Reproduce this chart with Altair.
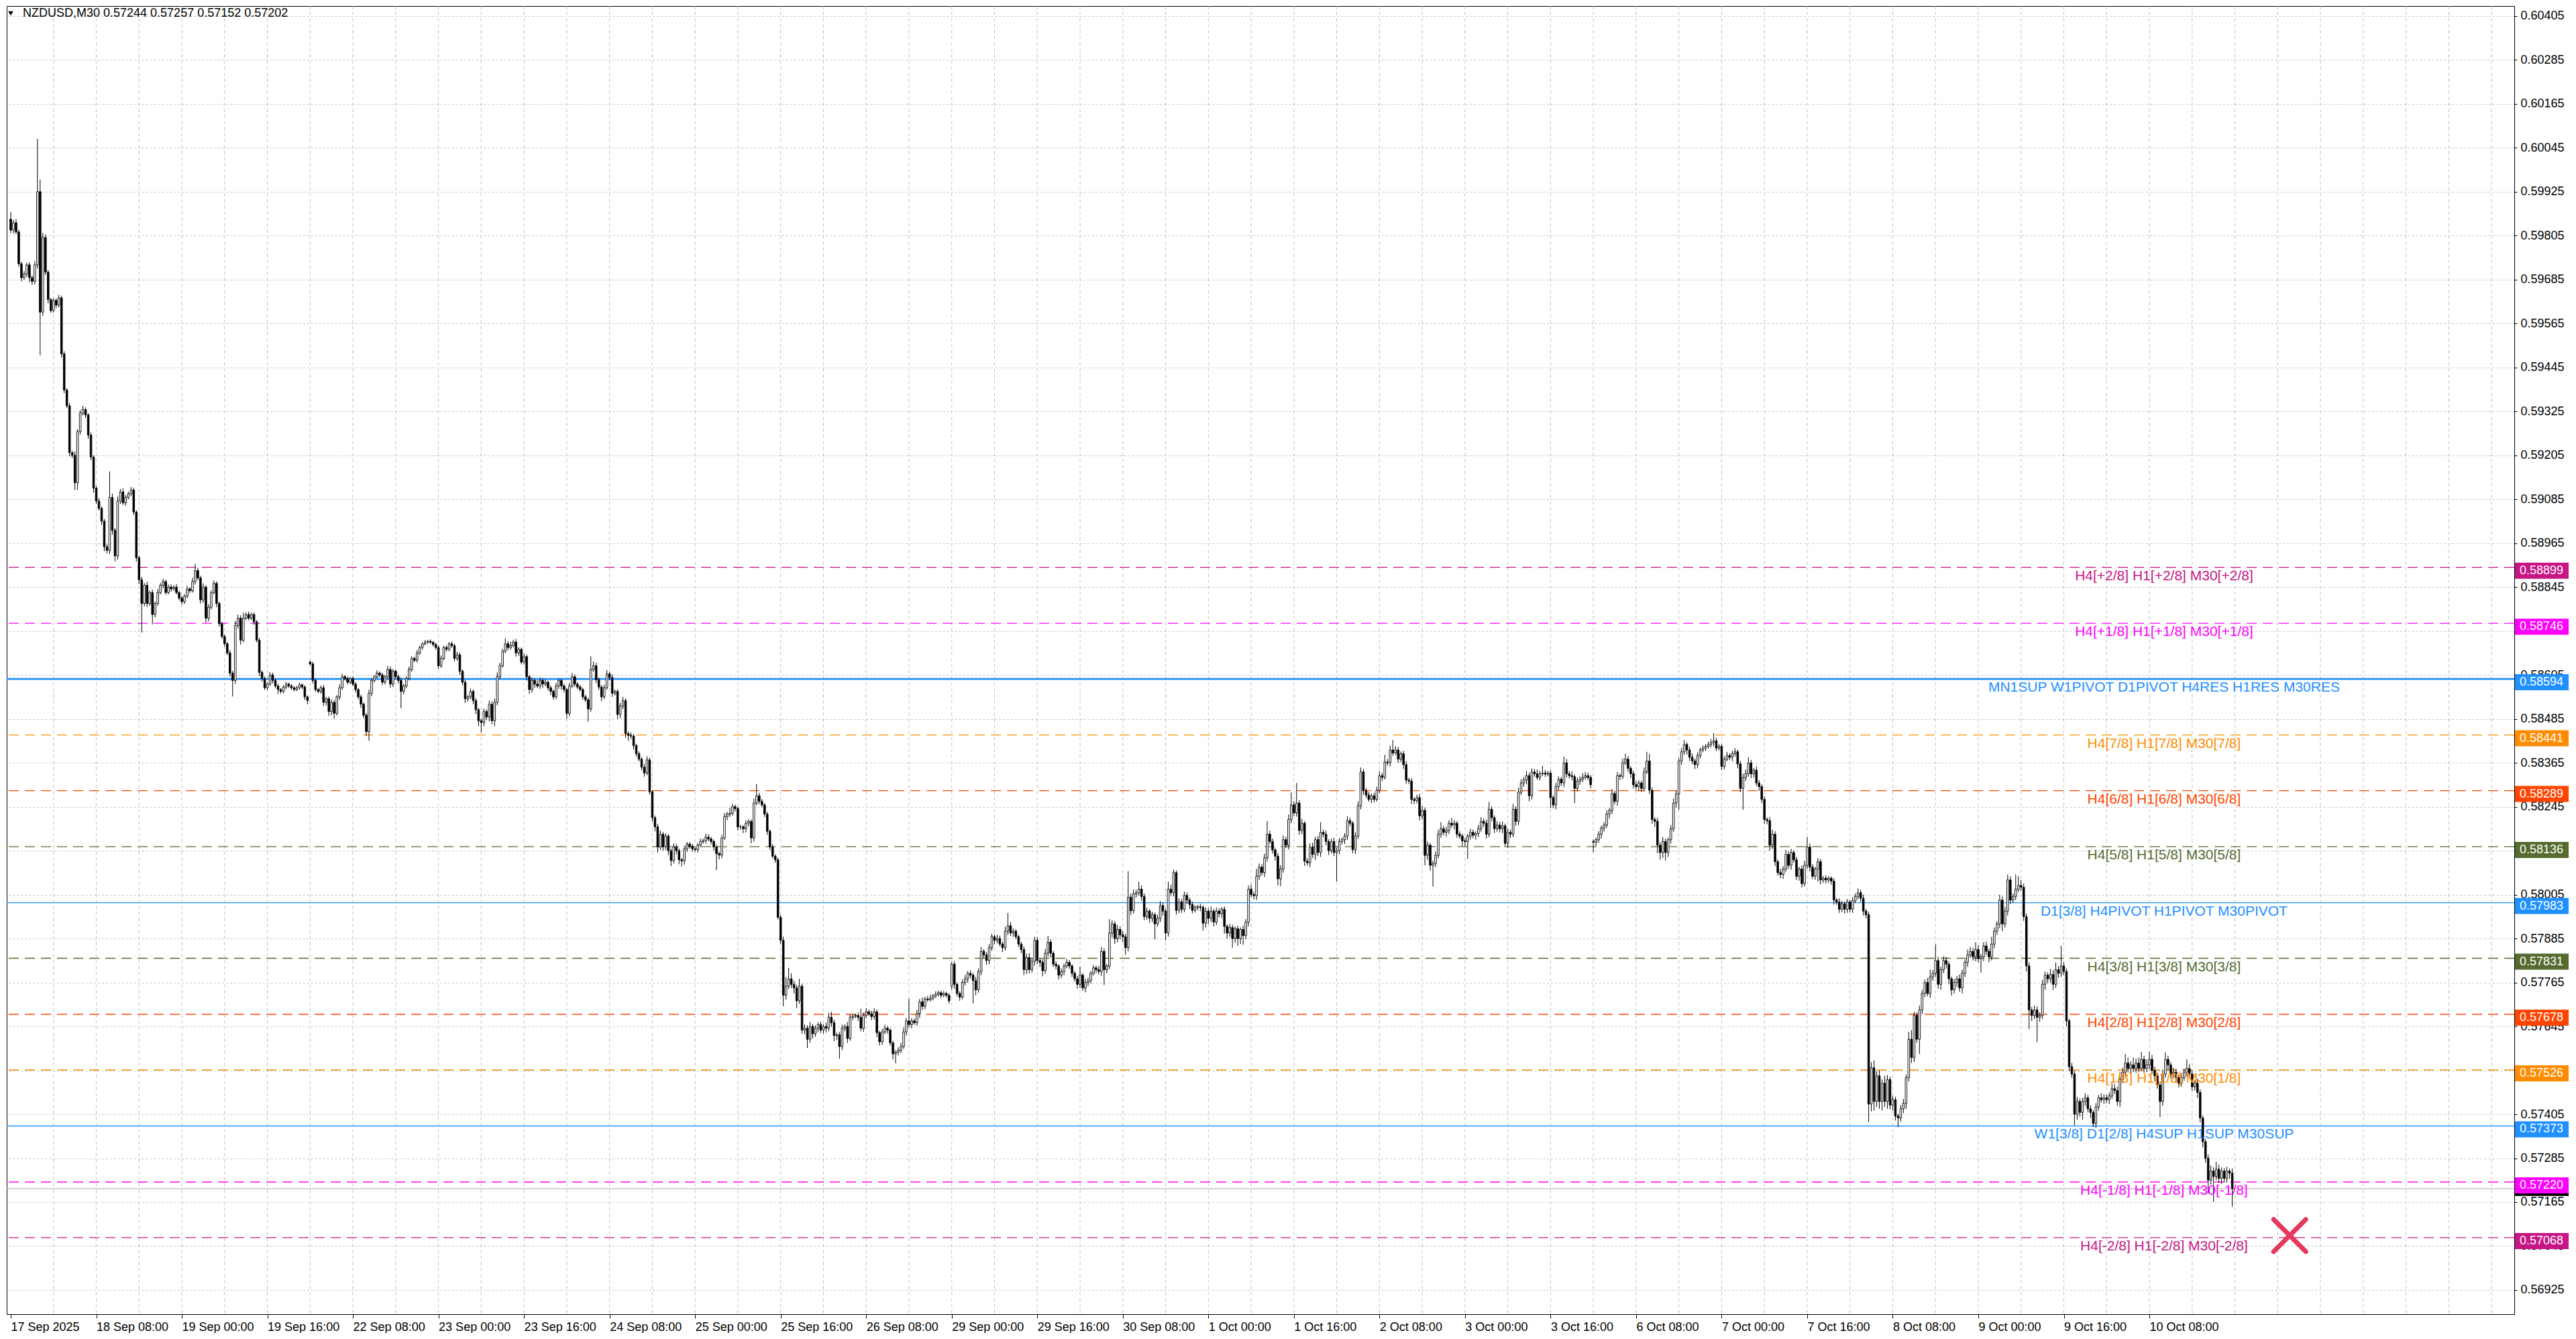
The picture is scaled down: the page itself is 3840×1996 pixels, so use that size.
import altair as alt
import pandas as pd

# ---- candle data, NZDUSD M30, prices in points (1 point = 0.00001) ----
first_open = 59850
gap_open = {112: 58640, 352: 57755, 592: 58150}   # weekly opens (gaps)

close_pts = [
    # 0
    59820, 59840, 59815, 59728, 59690, 59700, 59725, 59690, 59680, 59725, 59925, 59596, 59800, 59705, 59630, 59600,
    59628, 59615, 59635, 59482, 59383, 59340, 59212, 59205, 59130, 59270, 59320, 59330, 59315, 59260, 59200, 59115,
    59080, 59060, 59025, 58955, 58945, 59090, 59000, 58930, 59080, 59105, 59075, 59090, 59100, 59110, 59050, 58925,
    58865, 58800, 58850, 58800, 58830, 58770, 58800, 58830, 58850, 58860, 58830, 58845, 58840, 58845, 58830, 58815,
    58805, 58820, 58840, 58835, 58860, 58890, 58870, 58810, 58845, 58760, 58790, 58830, 58855, 58800, 58745, 58710,
    58690, 58665, 58610, 58590, 58740, 58760, 58700, 58760, 58770, 58760, 58770, 58750, 58700, 58612, 58595, 58570,
    58580, 58605, 58590, 58575, 58565, 58560, 58572, 58580, 58575, 58570, 58565, 58570, 58578, 58572, 58545, 58535,
    # 112
    58635, 58590, 58565, 58560, 58570, 58530, 58540, 58505, 58530, 58500, 58545, 58570, 58600, 58595, 58585, 58595,
    58580, 58565, 58545, 58525, 58495, 58450, 58555, 58590, 58600, 58610, 58605, 58585, 58600, 58620, 58580, 58615,
    58600, 58590, 58560, 58575, 58595, 58620, 58650, 58645, 58665, 58680, 58690, 58695, 58697, 58694, 58688, 58680,
    58630, 58650, 58680, 58675, 58690, 58685, 58650, 58660, 58615, 58585, 58540, 58545, 58560, 58535, 58510, 58480,
    58475, 58505, 58490, 58525, 58480, 58530, 58600, 58630, 58670, 58690, 58680, 58685, 58695, 58665, 58675, 58640,
    58655, 58600, 58565, 58590, 58580, 58575, 58590, 58580, 58585, 58570, 58560, 58545, 58575, 58590, 58575, 58565,
    # 208
    58500, 58575, 58600, 58580, 58572, 58565, 58545, 58537, 58512, 58620, 58630, 58592, 58572, 58545, 58570, 58608,
    58598, 58555, 58560, 58497, 58520, 58535, 58445, 58440, 58438, 58412, 58390, 58375, 58353, 58337, 58373, 58286,
    58215, 58190, 58135, 58170, 58135, 58165, 58125, 58098, 58135, 58125, 58100, 58097, 58130, 58143, 58137, 58130,
    58128, 58140, 58150, 58152, 58162, 58157, 58150, 58135, 58117, 58113, 58160, 58218, 58225, 58227, 58245, 58240,
    58190, 58190, 58185, 58200, 58205, 58160, 58255, 58275, 58260, 58250, 58225, 58178, 58135, 58110, 58100, 57943,
    57880, 57730, 57755, 57775, 57760, 57750, 57715, 57755, 57635, 57640, 57610, 57645, 57625, 57640, 57650, 57635,
    57645, 57640, 57670, 57655, 57620, 57622, 57590, 57640, 57645, 57612, 57670, 57673, 57675, 57670, 57640, 57675,
    57685, 57680, 57672, 57685, 57628, 57603, 57630, 57640, 57635, 57600, 57570, 57575, 57580, 57590, 57630, 57660,
    57650, 57660, 57655, 57680, 57712, 57700, 57720, 57718, 57722, 57728, 57733, 57737, 57730, 57735, 57730, 57715,
    # 352
    57815, 57760, 57735, 57725, 57765, 57775, 57790, 57785, 57770, 57745, 57795, 57850, 57840, 57825, 57860, 57890,
    57880, 57885, 57870, 57860, 57905, 57920, 57900, 57905, 57890, 57870, 57855, 57800, 57833, 57800, 57823, 57880,
    57825, 57820, 57797, 57845, 57875, 57845, 57815, 57810, 57785, 57795, 57810, 57820, 57810, 57790, 57775, 57760,
    57785, 57750, 57765, 57770, 57790, 57805, 57800, 57795, 57850, 57800, 57810, 57900, 57925, 57885, 57910, 57895,
    57890, 57860, 57998, 57961, 58007, 58010, 58020, 58000, 57945, 57960, 57940, 57950, 57925, 57940, 57975, 57960,
    57900, 58020, 58010, 58065, 57962, 57985, 57965, 58003, 57990, 57978, 57962, 57970, 57972, 57970, 57927, 57960,
    57940, 57960, 57930, 57960, 57953, 57965, 57918, 57900, 57915, 57885, 57912, 57885, 57910, 57893, 57930, 58020,
    58005, 58002, 58055, 58080, 58065, 58105, 58170, 58150, 58127, 58110, 58048, 58075, 58155, 58140, 58210, 58250,
    58228, 58255, 58180, 58200, 58096, 58092, 58135, 58115, 58155, 58120, 58175, 58170, 58150, 58125, 58150, 58120,
    58125, 58150, 58155, 58165, 58207, 58200, 58128, 58165, 58248, 58340, 58290, 58277, 58265, 58275, 58265, 58290,
    58330, 58325, 58367, 58365, 58400, 58392, 58400, 58375, 58390, 58360, 58318, 58315, 58265, 58262, 58270, 58220,
    58235, 58112, 58140, 58085, 58090, 58112, 58170, 58185, 58175, 58180, 58200, 58195, 58200, 58170, 58165, 58152,
    58150, 58165, 58175, 58167, 58172, 58185, 58205, 58200, 58170, 58238, 58215, 58185, 58195, 58185, 58193, 58145,
    58175, 58170, 58238, 58205, 58285, 58310, 58318, 58330, 58275, 58340, 58335, 58325, 58335, 58337, 58334, 58337,
    58270, 58250, 58300, 58320, 58310, 58365, 58335, 58330, 58327, 58295, 58315, 58320, 58325, 58330, 58325, 58305,
    # 592
    58148, 58155, 58170, 58187, 58195, 58225, 58235, 58281, 58260, 58330, 58328, 58365, 58375, 58350, 58335, 58305,
    58300, 58310, 58295, 58340, 58370, 58290, 58210, 58205, 58140, 58120, 58150, 58120, 58155, 58185, 58255, 58280,
    58370, 58395, 58415, 58400, 58380, 58370, 58360, 58385, 58400, 58405, 58410, 58415, 58420, 58425, 58405, 58410,
    58355, 58375, 58385, 58380, 58390, 58395, 58362, 58295, 58325, 58335, 58365, 58335, 58345, 58310, 58300, 58265,
    58210, 58207, 58140, 58170, 58095, 58065, 58060, 58075, 58115, 58085, 58120, 58100, 58055, 58075, 58035, 58085,
    58135, 58080, 58055, 58075, 58095, 58045, 58050, 58045, 58050, 58042, 57990, 57985, 57965, 57980, 57965, 57985,
    57965, 57988, 58000, 58010, 57995, 57960, 57950, 57433, 57532, 57440, 57510, 57440, 57490, 57440, 57500, 57430,
    57445, 57400, 57395, 57420, 57435, 57505, 57610, 57560, 57675, 57610, 57690, 57735, 57765, 57735, 57780, 57790,
    57825, 57760, 57800, 57825, 57815, 57775, 57745, 57765, 57775, 57750, 57790, 57820, 57840, 57850, 57835, 57855,
    57830, 57835, 57865, 57850, 57835, 57870, 57905, 57925, 57990, 57925, 57960, 58045, 57990, 58000, 58020, 58030,
    58025, 57945, 57810, 57690, 57675, 57690, 57670, 57675, 57760, 57785, 57775, 57787, 57760, 57800, 57790, 57810,
    57795, 57660, 57535, 57515, 57405, 57440, 57410, 57440, 57450, 57420, 57410, 57380, 57425, 57450, 57445, 57450,
    57445, 57455, 57475, 57470, 57440, 57500, 57520, 57545, 57530, 57540, 57530, 57545, 57530, 57555, 57530, 57540,
    57555, 57525, 57510, 57485, 57440, 57515, 57555, 57540, 57515, 57520, 57505, 57490, 57505, 57520, 57530, 57515,
    57480, 57490, 57465, 57395, 57330, 57285, 57225, 57250, 57235, 57255, 57230, 57250, 57230, 57250, 57244, 57202,
]

wick_up = [
    20, 8, 10, 6, 5, 8, 6, 7, 6, 10, 144, 33, 12, 8, 6, 5,
    6, 5, 8, 6, 7, 5, 8, 5, 10, 6, 8, 10, 6, 5, 7, 5,
    6, 8, 5, 6, 7, 71, 10, 6, 12, 8, 10, 6, 5, 8, 6, 5,
    5, 8, 6, 10, 5, 8, 6, 10, 6, 8, 5, 6, 7, 5, 8, 5,
    6, 5, 8, 5, 10, 18, 8, 6, 10, 5, 8, 6, 8, 6, 5, 5,
    6, 5, 8, 6, 12, 10, 8, 15, 6, 8, 5, 6, 5, 6, 5, 6,
    5, 8, 6, 5, 6, 4, 5, 6, 4, 5, 4, 5, 6, 4, 5, 4,
    4, 6, 5, 4, 6, 8, 5, 6, 8, 6, 5, 10, 8, 5, 6, 5,
    6, 5, 4, 6, 5, 6, 10, 6, 5, 8, 5, 6, 5, 10, 8, 6,
    5, 6, 8, 5, 6, 8, 6, 5, 8, 5, 4, 5, 4, 5, 4, 5,
    6, 8, 5, 6, 5, 6, 5, 8, 6, 5, 6, 5, 8, 5, 6, 5,
    6, 8, 6, 10, 8, 10, 12, 8, 6, 15, 8, 10, 6, 8, 6, 5,
    8, 6, 5, 8, 6, 10, 8, 6, 8, 5, 6, 5, 8, 6, 5, 6,
    5, 8, 10, 6, 5, 6, 5, 6, 5, 36, 12, 8, 6, 5, 8, 10,
    6, 8, 5, 6, 8, 10, 6, 5, 8, 6, 5, 6, 5, 8, 10, 6,
    5, 6, 8, 10, 6, 8, 5, 6, 10, 8, 6, 5, 8, 6, 5, 6,
    5, 6, 8, 6, 10, 8, 6, 5, 6, 5, 8, 10, 6, 15, 8, 6,
    5, 6, 5, 8, 6, 5, 12, 32, 8, 6, 5, 6, 5, 8, 5, 6,
    6, 10, 25, 30, 15, 10, 8, 20, 6, 10, 8, 12, 6, 8, 6, 8,
    6, 10, 12, 15, 8, 6, 8, 10, 6, 12, 8, 6, 5, 8, 23, 8,
    10, 6, 8, 10, 6, 5, 8, 10, 6, 5, 6, 5, 8, 10, 12, 8,
    60, 8, 6, 10, 8, 12, 6, 8, 10, 6, 8, 6, 5, 6, 5, 6,
    6, 8, 5, 6, 8, 10, 6, 8, 6, 10, 8, 12, 6, 8, 10, 8,
    6, 10, 8, 6, 12, 35, 10, 8, 6, 5, 6, 8, 10, 12, 8, 10,
    8, 6, 8, 12, 17, 8, 6, 8, 5, 8, 6, 10, 6, 5, 6, 8,
    23, 6, 10, 8, 6, 8, 6, 10, 12, 8, 6, 38, 10, 8, 12, 8,
    10, 8, 71, 10, 12, 8, 20, 10, 8, 10, 6, 8, 6, 10, 12, 8,
    6, 20, 12, 8, 6, 10, 8, 10, 8, 6, 8, 6, 5, 8, 6, 10,
    8, 12, 6, 10, 8, 6, 8, 6, 10, 8, 6, 8, 6, 10, 8, 10,
    12, 8, 20, 10, 8, 12, 36, 10, 8, 6, 8, 10, 12, 8, 14, 34,
    10, 55, 8, 12, 6, 8, 10, 12, 8, 10, 28, 8, 10, 6, 8, 10,
    8, 10, 6, 8, 12, 8, 6, 10, 12, 12, 8, 6, 8, 6, 8, 10,
    12, 8, 20, 8, 12, 27, 10, 8, 6, 8, 10, 6, 8, 6, 8, 10,
    12, 8, 10, 6, 8, 10, 12, 18, 8, 10, 8, 15, 8, 6, 8, 6,
    8, 6, 10, 8, 6, 10, 12, 8, 10, 20, 8, 6, 10, 8, 12, 6,
    10, 8, 15, 8, 12, 10, 8, 12, 8, 10, 8, 12, 8, 20, 8, 6,
    8, 6, 10, 8, 6, 17, 10, 8, 12, 6, 10, 8, 12, 10, 8, 6,
    5, 6, 8, 6, 8, 10, 6, 12, 8, 10, 6, 12, 15, 8, 6, 8,
    10, 8, 6, 12, 25, 20, 8, 6, 10, 8, 12, 8, 6, 10, 12, 10,
    8, 10, 12, 6, 8, 10, 6, 8, 6, 8, 6, 8, 10, 21, 8, 6,
    6, 8, 10, 6, 8, 10, 6, 8, 10, 12, 15, 8, 6, 10, 8, 6,
    8, 6, 10, 12, 8, 6, 10, 8, 12, 8, 10, 6, 8, 6, 10, 12,
    27, 10, 8, 6, 10, 8, 6, 8, 6, 5, 8, 6, 10, 8, 6, 8,
    6, 10, 8, 12, 8, 10, 6, 8, 15, 20, 12, 15, 10, 20, 12, 8,
    10, 8, 6, 10, 12, 8, 20, 25, 10, 8, 12, 10, 8, 12, 20, 10,
    44, 10, 8, 12, 10, 8, 6, 10, 8, 12, 10, 8, 15, 12, 10, 20,
    12, 8, 10, 12, 8, 20, 10, 8, 15, 10, 12, 15, 10, 8, 40, 25,
    15, 10, 8, 10, 8, 12, 10, 8, 12, 10, 8, 15, 12, 20, 10, 55,
    10, 8, 6, 10, 8, 12, 8, 10, 12, 8, 10, 6, 10, 8, 12, 10,
    8, 10, 15, 12, 10, 20, 12, 25, 15, 10, 20, 12, 15, 20, 10, 15,
    20, 12, 10, 8, 10, 12, 19, 10, 8, 12, 10, 8, 12, 10, 25, 12,
    10, 8, 12, 8, 6, 8, 10, 15, 10, 20, 12, 10, 8, 12, 6, 13,
]

wick_dn = [
    8, 10, 6, 8, 10, 6, 8, 12, 10, 8, 10, 118, 10, 8, 10, 6,
    5, 8, 6, 10, 8, 6, 10, 8, 20, 20, 8, 6, 8, 10, 8, 12,
    8, 6, 10, 12, 8, 10, 12, 15, 10, 8, 6, 8, 5, 6, 8, 10,
    12, 79, 8, 10, 6, 27, 8, 6, 5, 8, 6, 5, 8, 6, 5, 6,
    8, 6, 5, 6, 5, 8, 6, 10, 8, 12, 8, 6, 5, 10, 8, 6,
    8, 6, 10, 44, 10, 8, 12, 6, 5, 6, 5, 8, 6, 10, 8, 6,
    6, 5, 8, 6, 12, 6, 5, 6, 5, 6, 5, 4, 5, 6, 8, 10,
    4, 8, 6, 5, 6, 10, 8, 12, 10, 15, 6, 8, 6, 5, 6, 5,
    6, 8, 6, 10, 8, 12, 25, 8, 6, 5, 6, 8, 6, 5, 10, 8,
    6, 8, 46, 8, 6, 5, 6, 5, 6, 5, 6, 4, 5, 4, 5, 6,
    8, 6, 5, 6, 5, 6, 8, 6, 10, 8, 12, 8, 6, 10, 12, 15,
    27, 10, 8, 12, 10, 15, 8, 6, 5, 6, 8, 6, 5, 10, 8, 6,
    6, 10, 12, 8, 10, 6, 8, 10, 6, 8, 10, 8, 6, 8, 10, 8,
    15, 8, 6, 8, 6, 5, 8, 6, 35, 8, 6, 10, 8, 12, 6, 5,
    8, 10, 6, 12, 10, 8, 12, 15, 8, 10, 8, 6, 8, 10, 6, 8,
    10, 12, 15, 8, 10, 8, 12, 15, 8, 10, 12, 15, 10, 8, 6, 8,
    6, 8, 5, 6, 8, 6, 8, 10, 45, 12, 8, 6, 10, 8, 6, 8,
    10, 8, 12, 10, 8, 15, 10, 6, 8, 6, 8, 10, 8, 6, 8, 6,
    10, 30, 12, 8, 10, 15, 20, 8, 10, 12, 24, 10, 12, 8, 10, 8,
    10, 12, 8, 10, 15, 12, 33, 10, 8, 12, 6, 8, 6, 10, 8, 10,
    8, 6, 10, 8, 12, 10, 8, 6, 10, 8, 15, 26, 10, 8, 6, 10,
    8, 10, 6, 8, 12, 10, 8, 6, 5, 6, 5, 6, 8, 5, 6, 8,
    10, 12, 8, 10, 6, 8, 10, 8, 62, 15, 8, 10, 8, 12, 10, 8,
    10, 8, 6, 12, 8, 10, 8, 10, 6, 8, 10, 15, 12, 10, 8, 12,
    10, 12, 15, 8, 10, 12, 8, 10, 12, 8, 10, 6, 8, 10, 8, 12,
    10, 8, 12, 10, 8, 6, 10, 8, 12, 42, 10, 8, 12, 15, 10, 12,
    15, 19, 10, 12, 8, 10, 8, 12, 10, 8, 12, 10, 42, 8, 10, 12,
    20, 10, 8, 10, 12, 8, 10, 8, 10, 12, 8, 6, 8, 10, 20, 12,
    15, 10, 12, 8, 10, 12, 20, 15, 10, 25, 12, 20, 15, 25, 10, 12,
    8, 10, 12, 10, 8, 12, 10, 8, 10, 12, 18, 20, 10, 8, 12, 10,
    8, 10, 12, 10, 13, 8, 12, 10, 15, 10, 12, 8, 10, 12, 8, 10,
    79, 10, 8, 12, 10, 8, 10, 12, 8, 10, 12, 8, 6, 10, 8, 6,
    8, 10, 6, 8, 10, 8, 6, 10, 8, 12, 10, 8, 12, 10, 8, 12,
    10, 27, 12, 15, 58, 10, 8, 10, 8, 12, 10, 8, 12, 10, 8, 15,
    12, 47, 10, 8, 12, 10, 8, 10, 12, 8, 10, 12, 8, 10, 12, 11,
    12, 10, 8, 12, 10, 8, 10, 12, 15, 10, 8, 6, 8, 6, 8, 6,
    29, 9, 12, 10, 8, 12, 10, 8, 10, 40, 8, 10, 8, 6, 8, 10,
    27, 10, 8, 12, 10, 8, 12, 10, 8, 12, 10, 8, 6, 10, 12, 10,
    8, 12, 10, 8, 6, 10, 12, 15, 22, 20, 15, 22, 12, 10, 8, 12,
    43, 10, 8, 12, 10, 8, 12, 10, 8, 6, 8, 6, 8, 10, 8, 6,
    10, 8, 6, 8, 10, 8, 12, 10, 58, 10, 8, 12, 10, 8, 12, 10,
    12, 10, 15, 10, 12, 8, 10, 12, 8, 10, 12, 8, 10, 12, 10, 8,
    10, 12, 8, 10, 35, 12, 8, 10, 8, 10, 12, 8, 10, 8, 12, 10,
    8, 10, 6, 8, 10, 12, 10, 49, 20, 25, 15, 20, 25, 15, 20, 12,
    15, 12, 25, 10, 12, 15, 10, 15, 12, 10, 40, 12, 10, 8, 12, 10,
    10, 12, 15, 10, 12, 15, 16, 10, 12, 10, 15, 10, 12, 8, 10, 12,
    10, 38, 12, 10, 15, 10, 12, 10, 12, 20, 10, 12, 10, 8, 10, 8,
    10, 12, 15, 52, 15, 10, 68, 12, 10, 15, 12, 10, 15, 10, 12, 10,
    10, 15, 12, 10, 30, 15, 12, 20, 12, 10, 15, 10, 12, 10, 8, 12,
    10, 12, 8, 10, 12, 15, 10, 12, 10, 15, 10, 12, 10, 8, 12, 10,
    12, 10, 15, 10, 43, 12, 10, 15, 12, 10, 15, 12, 10, 8, 12, 10,
    12, 10, 15, 12, 15, 12, 37, 12, 69, 10, 12, 15, 10, 12, 15, 50,
]

tick_labels = [
    "17 Sep 2025", "18 Sep 08:00", "19 Sep 00:00", "19 Sep 16:00", "22 Sep 08:00",
    "23 Sep 00:00", "23 Sep 16:00", "24 Sep 08:00", "25 Sep 00:00", "25 Sep 16:00",
    "26 Sep 08:00", "29 Sep 00:00", "29 Sep 16:00", "30 Sep 08:00", "1 Oct 00:00",
    "1 Oct 16:00", "2 Oct 08:00", "3 Oct 00:00", "3 Oct 16:00", "6 Oct 08:00",
    "7 Oct 00:00", "7 Oct 16:00", "8 Oct 08:00", "9 Oct 00:00", "9 Oct 16:00",
    "10 Oct 08:00",
]
bars_per_label = 32
bars_per_grid = 16

level_price = [0.58899, 0.58746, 0.58594, 0.58441, 0.58289, 0.58136, 0.57983,
               0.57831, 0.57678, 0.57526, 0.57373, 0.57220, 0.57068]
level_text = [
    "H4[+2/8] H1[+2/8] M30[+2/8]",
    "H4[+1/8] H1[+1/8] M30[+1/8]",
    "MN1SUP W1PIVOT D1PIVOT H4RES H1RES M30RES",
    "H4[7/8] H1[7/8] M30[7/8]",
    "H4[6/8] H1[6/8] M30[6/8]",
    "H4[5/8] H1[5/8] M30[5/8]",
    "D1[3/8] H4PIVOT H1PIVOT M30PIVOT",
    "H4[3/8] H1[3/8] M30[3/8]",
    "H4[2/8] H1[2/8] M30[2/8]",
    "H4[1/8] H1[1/8] M30[1/8]",
    "W1[3/8] D1[2/8] H4SUP H1SUP M30SUP",
    "H4[-1/8] H1[-1/8] M30[-1/8]",
    "H4[-2/8] H1[-2/8] M30[-2/8]",
]
level_color = ["#C71585", "#FF00FF", "#1E90FF", "#FF8C00", "#FF4500", "#556B2F", "#1E90FF",
               "#556B2F", "#FF4500", "#FF8C00", "#1E90FF", "#FF00FF", "#C71585"]
level_kind = ["dash", "dash", "main", "dash", "dash", "dash", "solid",
              "dash", "dash", "dash", "solid", "dash", "dash"]
label_bar = 805.5

bid_price = 0.57202
header = "NZDUSD,M30  0.57244 0.57257 0.57152 0.57202"
marker_bar = 852.5
marker_price = 0.57074

# ---- layout ----
W, H = 3738, 1950
FONT = "Liberation Sans"
x_dom = [-0.25, 935.25]
y_dom = [0.56859, 0.60432]

n = min(len(close_pts), len(wick_up), len(wick_dn))
rows = []
prev = first_open
for i in range(n):
    c = close_pts[i]
    o = gap_open.get(i, prev)
    rows.append({
        "bar": i,
        "open": o / 1e5,
        "close": c / 1e5,
        "high": (max(o, c) + wick_up[i]) / 1e5,
        "low": (min(o, c) - wick_dn[i]) / 1e5,
        "bull": c >= o,
    })
    prev = c
candles = pd.DataFrame(rows)

levels = pd.DataFrame({"price": level_price, "text": level_text,
                       "color": level_color, "kind": level_kind})
levels["label"] = levels["price"].map(lambda p: f"{p:.5f}")
levels["bar"] = label_bar

xs = alt.Scale(domain=x_dom, nice=False, zero=False)
ys = alt.Scale(domain=y_dom, nice=False, zero=False)

label_js = "[" + ",".join(f"'{t}'" for t in tick_labels) + "]"
x_axis = alt.Axis(
    values=[k * bars_per_label for k in range(len(tick_labels))],
    labelExpr=f"{label_js}[round(datum.value / {bars_per_label})]",
    labelAlign="left", labelPadding=4, tickSize=6, tickColor="black",
    grid=False, title=None, labelFontSize=18, labelFont=FONT, labelColor="black",
    labelOverlap=False, labelFlush=False, domainColor="black",
)
y_axis = alt.Axis(
    orient="right",
    values=[round(0.56925 + 0.0012 * k, 5) for k in range(30)],
    format=".5f", grid=True, gridDash=[3, 3], gridColor="#c4c4c4",
    tickSize=4, tickColor="black", labelPadding=5, title=None,
    labelFontSize=18, labelFont=FONT, labelColor="black", domainColor="black",
    labelOverlap=False, labelFlush=False,
)

X = alt.X("bar:Q", scale=xs, axis=x_axis)


def Y(field):
    return alt.Y(f"{field}:Q", scale=ys, axis=y_axis)


vgrid = alt.Chart(pd.DataFrame({"bar": list(range(bars_per_grid, 936, bars_per_grid))})).mark_rule(
    color="#c4c4c4", strokeDash=[5, 4], strokeWidth=1
).encode(x=X)

lvl_base = alt.Chart(levels)
dash_lines = lvl_base.transform_filter("datum.kind == 'dash'").mark_rule(
    strokeDash=[15, 9], strokeWidth=1.3
).encode(y=Y("price"), color=alt.Color("color:N", scale=None))
solid_lines = lvl_base.transform_filter("datum.kind == 'solid'").mark_rule(
    strokeWidth=1.3
).encode(y=Y("price"), color=alt.Color("color:N", scale=None))
main_lines = lvl_base.transform_filter("datum.kind == 'main'").mark_rule(
    strokeWidth=2.6
).encode(y=Y("price"), color=alt.Color("color:N", scale=None))

bid = pd.DataFrame({"price": [bid_price]})
bid_line = alt.Chart(bid).mark_rule(
    color="#b8b8b8", strokeWidth=1.3
).encode(y=Y("price"))
# the bid price tag sits behind the -1/8 tag, only its lower edge shows
bid_box = alt.Chart(bid).mark_rect(yOffset=-7, y2Offset=11, clip=False, color="black").encode(
    x=alt.value(W + 1), x2=alt.value(W + 81), y=Y("price"), y2="price:Q"
)

wicks = alt.Chart(candles).mark_rule(color="black", strokeWidth=1).encode(
    x=X, y=Y("low"), y2="high:Q"
)
bodies = alt.Chart(candles).mark_bar(size=2.6, stroke="black", strokeWidth=0.9).encode(
    x=X, y=Y("open"), y2="close:Q",
    fill=alt.condition("datum.bull", alt.value("white"), alt.value("black")),
)

lvl_text = lvl_base.mark_text(
    align="center", baseline="top", dy=2, fontSize=21, font=FONT
).encode(x=X, y=Y("price"), text="text:N", color=alt.Color("color:N", scale=None))

box_rects = lvl_base.mark_rect(yOffset=-7, y2Offset=17, clip=False).encode(
    x=alt.value(W + 1), x2=alt.value(W + 81), y=Y("price"), y2="price:Q",
    color=alt.Color("color:N", scale=None),
)
box_text = lvl_base.mark_text(
    align="left", baseline="middle", dy=5, fontSize=18, font=FONT, color="white", clip=False
).encode(x=alt.value(W + 8), y=Y("price"), text="label:N")

marker = alt.Chart(pd.DataFrame({"bar": [marker_bar], "price": [marker_price]})).mark_point(
    shape="M -1 -1 L 1 1 M 1 -1 L -1 1", filled=False, size=2304,
    stroke="#e5385c", strokeWidth=7, strokeCap="round", opacity=1
).encode(x=X, y=Y("price"))

head = pd.DataFrame({"text": [header]})
head_text = alt.Chart(head).mark_text(
    align="left", baseline="middle", fontSize=18, font=FONT, color="black"
).encode(x=alt.value(24), y=alt.value(11), text="text:N")
head_tri = alt.Chart(head).mark_point(
    shape="triangle-down", filled=True, color="black", size=60, opacity=1
).encode(x=alt.value(6), y=alt.value(11))

chart = alt.layer(
    vgrid, dash_lines, solid_lines, main_lines, bid_line,
    wicks, bodies, lvl_text, marker, bid_box, box_rects, box_text, head_text, head_tri,
).properties(
    width=W, height=H, padding=0, background="white"
).configure_view(
    stroke="black", strokeWidth=1
)

chart.save("out.html", embed_options={"renderer": "svg", "actions": False})
